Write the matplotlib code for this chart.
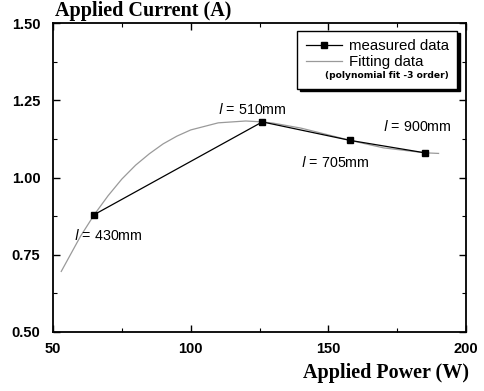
import matplotlib
matplotlib.use('Agg')
import matplotlib.pyplot as plt
from matplotlib.ticker import MultipleLocator, FormatStrFormatter

# measured data
power = [65, 126, 158, 185]
current = [0.88, 1.18, 1.12, 1.08]
lengths = ["430mm", "510mm", "705mm", "900mm"]

# fitting curve
fit_power = [53, 60, 65, 70, 75, 80, 85, 90, 95, 100, 110, 120, 126, 130,
             140, 150, 158, 170, 185, 190]
fit_current = [0.696, 0.81, 0.88, 0.941, 0.995, 1.04, 1.077, 1.109, 1.134,
               1.154, 1.177, 1.183, 1.18, 1.176, 1.160, 1.138, 1.12, 1.096,
               1.08, 1.078]

fig = plt.figure(figsize=(4.84, 3.91), dpi=100)
ax = fig.add_axes([0.1095, 0.151, 0.8535, 0.790])

ax.plot(fit_power, fit_current, color='#9a9a9a', lw=0.9, label='Fitting data')
ax.plot(power, current, color='black', lw=0.9, marker='s', ms=5,
        label='measured data')

ax.set_xlim(50, 200)
ax.set_ylim(0.5, 1.5)
ax.xaxis.set_major_locator(MultipleLocator(50))
ax.xaxis.set_minor_locator(MultipleLocator(25))
ax.yaxis.set_major_locator(MultipleLocator(0.25))
ax.yaxis.set_minor_locator(MultipleLocator(0.125))
ax.yaxis.set_major_formatter(FormatStrFormatter('%.2f'))
ax.tick_params(which='both', direction='in', top=True, right=True)
ax.tick_params(which='major', length=5, width=1)
ax.tick_params(which='minor', length=3, width=0.8)
for lab in ax.get_xticklabels() + ax.get_yticklabels():
    lab.set_fontfamily('Liberation Sans')
    lab.set_fontweight('bold')
    lab.set_fontsize(10.5)
ax.tick_params(axis='x', pad=7)
ax.tick_params(axis='y', pad=9)
for sp in ax.spines.values():
    sp.set_linewidth(1.3)

# annotations
ann_font = dict(fontsize=10.3, family='Liberation Sans')
ax.text(57.5, 0.835, r'$\mathit{l}$ = ' + lengths[0], va='top', **ann_font)
ax.text(110, 1.195, r'$\mathit{l}$ = ' + lengths[1], va='bottom', **ann_font)
ax.text(140, 1.072, r'$\mathit{l}$ = ' + lengths[2], va='top', **ann_font)
ax.text(170, 1.14, r'$\mathit{l}$ = ' + lengths[3], va='bottom', **ann_font)

# legend
handles, labels = ax.get_legend_handles_labels()
leg = ax.legend(handles[::-1], labels[::-1], loc='upper right',
                bbox_to_anchor=(0.99, 0.99), fancybox=False,
                shadow={'color': 'black', 'alpha': 1},
                handlelength=2.4, borderpad=0.55, labelspacing=0.15,
                handletextpad=0.5, borderaxespad=0.3,
                prop={'family': 'Liberation Sans', 'size': 10.8},
                title='(polynomial fit -3 order)')
leg.get_frame().set_edgecolor('black')
leg.get_frame().set_linewidth(1.0)
leg._legend_box.align = 'right'
# move title beneath the entries
leg.get_title().set_fontsize(6.6)
leg.get_title().set_fontweight('bold')
vp = leg._legend_box
vp._children = vp._children[::-1]

fig.text(0.113, 0.997, 'Applied Current (A)', family='Liberation Serif',
         fontweight='bold', fontsize=14.5, ha='left', va='top')
fig.text(0.97, 0.02, 'Applied Power (W)', family='Liberation Serif',
         fontweight='bold', fontsize=14.5, ha='right', va='bottom')

fig.savefig('out.png', dpi=100)
